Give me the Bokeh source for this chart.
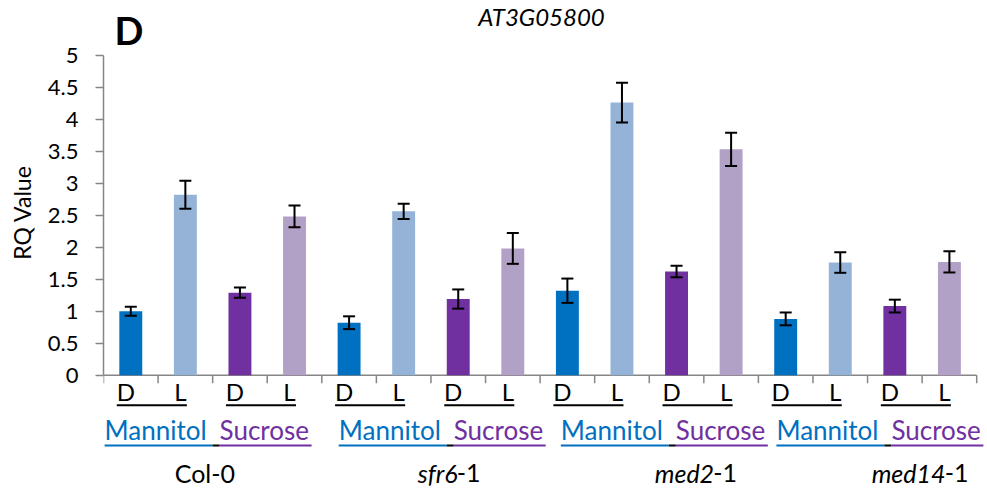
import math
from bokeh.plotting import figure
from bokeh.layouts import row
from bokeh.models import (ColumnDataSource, Range1d, LinearAxis, FixedTicker,
                          Whisker, TeeHead)
from bokeh.core.properties import value
from bokeh.embed import file_html
from bokeh.resources import INLINE

# ---------------- data ----------------
genotype_italic = ["", "sfr6", "med2", "med14"]
genotype_plain = ["Col-0", "-1", "-1", "-1"]
treatments = ["Mannitol", "Sucrose"]
light = ["D", "L"]

# order inside each genotype: Mannitol D, Mannitol L, Sucrose D, Sucrose L
col0_rq = [1.00, 2.82, 1.29, 2.48]
col0_err = [0.07, 0.22, 0.08, 0.17]
sfr6_rq = [0.82, 2.56, 1.19, 1.98]
sfr6_err = [0.10, 0.12, 0.15, 0.24]
med2_rq = [1.32, 4.26, 1.62, 3.53]
med2_err = [0.19, 0.31, 0.09, 0.26]
med14_rq = [0.88, 1.76, 1.08, 1.77]
med14_err = [0.10, 0.16, 0.10, 0.165]

y_ticks = [0, 0.5, 1, 1.5, 2, 2.5, 3, 3.5, 4, 4.5, 5]
y_tick_labels = ["0", "0.5", "1", "1.5", "2", "2.5", "3", "3.5", "4", "4.5", "5"]
title_text = "AT3G05800"
panel_letter = "D"
y_label = "RQ Value"

# ---------------- styles / layout ----------------
FONT = "Lato"
bar_colors = ["#0070C0", "#95B3D7", "#7030A0", "#B2A1C7"]
treat_colors = ["#0070C0", "#7030A0"]
AXIS_GREY = "#868686"
BASE_FIX = 0.42  # em correction for alphabetic baseline placement

TOTAL_W, H = 987, 490
LABEL_W = 40
W = TOTAL_W - LABEL_W
FL, FR = 63, 0
frame_w = W - FL - FR
X0 = LABEL_W + FL          # page x of frame left
Y0 = 374.7                 # page y of value 0
PX_Y = 64.0
PX_X = 54.575              # pixels per category
y_end = Y0 / PX_Y
y_start = -(H - Y0) / PX_Y
x_end = frame_w / PX_X

rq_all = [col0_rq, sfr6_rq, med2_rq, med14_rq]
err_all = [col0_err, sfr6_err, med2_err, med14_err]
n_cat = sum(len(r) for r in rq_all)

def xd(page_x):
    return (page_x - X0) / PX_X
def yd(page_y):
    return (Y0 - page_y) / PX_Y
def fix(size):
    return -BASE_FIX * size

# per-group text placement (in categories, from group start)
treat_label_start = [0.02, 0.31, 0.38, 0.33]
geno_label_right = [2.41, 2.91, 3.61, 3.85]
MANN_W, GAP_W, SUC_W = 108, 7, 92
TREAT_SIZE = 26

# ---------------- sources ----------------
xs, tops, errs, cols, dl = [], [], [], [], []
for g, (rq, er) in enumerate(zip(rq_all, err_all)):
    for k, (v, e) in enumerate(zip(rq, er)):
        xs.append(g * 4 + k + 0.5)
        tops.append(v)
        errs.append(e)
        cols.append(bar_colors[k])
        dl.append(light[k % 2])
src = ColumnDataSource(dict(x=xs, top=tops, upper=[t + e for t, e in zip(tops, errs)],
                            lower=[t - e for t, e in zip(tops, errs)], color=cols, dl=dl,
                            y_dl=[yd(401.5)] * len(xs)))

p = figure(width=W, height=H, x_range=Range1d(0, x_end), y_range=Range1d(y_start, y_end),
           output_backend="svg", toolbar_location=None, title=None,
           x_axis_type=None, y_axis_type=None,
           min_border_left=FL, min_border_right=FR, min_border_top=0, min_border_bottom=0)
p.outline_line_color = None
p.background_fill_color = "white"
p.border_fill_color = "white"

yaxis = LinearAxis(ticker=FixedTicker(ticks=y_ticks), bounds=(0, 5),
                   major_label_overrides={float(t): s for t, s in zip(y_ticks, y_tick_labels)})
yaxis.axis_line_color = AXIS_GREY
yaxis.axis_line_width = 1.5
yaxis.major_tick_line_color = AXIS_GREY
yaxis.major_tick_line_width = 1.5
yaxis.major_tick_out = 8
yaxis.major_tick_in = 0
yaxis.minor_tick_out = 0
yaxis.minor_tick_in = 0
yaxis.major_label_standoff = 17
yaxis.major_label_text_font = FONT
yaxis.major_label_text_font_size = "22px"
yaxis.major_label_text_color = "black"
p.add_layout(yaxis, "left")

# x axis line and category ticks
p.segment(x0=[0], y0=[0], x1=[n_cat], y1=[0], line_color=AXIS_GREY, line_width=1.5)
tick_x = list(range(n_cat + 1))
p.segment(x0=tick_x, y0=[0] * len(tick_x), x1=tick_x, y1=[-8 / PX_Y] * len(tick_x),
          line_color=AXIS_GREY, line_width=1.5)

# bars
p.vbar(x="x", top="top", width=0.42, fill_color="color", line_color=None, source=src)

# error bars
p.add_layout(Whisker(base="x", upper="upper", lower="lower", source=src, level="overlay",
                     line_color="black", line_width=2,
                     upper_head=TeeHead(size=12, line_width=2, line_color="black"),
                     lower_head=TeeHead(size=12, line_width=2, line_color="black")))

# D / L labels
p.text(x="x", y="y_dl", text="dl", source=src, text_align="center", text_baseline="alphabetic",
       x_offset=-5, y_offset=fix(24), text_font=value(FONT), text_font_size=value("24px"),
       text_color="black")

# underline of D/L pairs
pair_x0, pair_x1 = [], []
for k in range(n_cat // 2):
    pair_x0.append(2 * k + 0.5 - 14 / PX_X)
    pair_x1.append(2 * k + 1.5 + 1.5 / PX_X)
y_pair = yd(404.7)
p.segment(x0=pair_x0, y0=[y_pair] * len(pair_x0), x1=pair_x1, y1=[y_pair] * len(pair_x0),
          line_color="black", line_width=2)

# treatment labels with underlines
y_treat = yd(440.5)
y_treat_ul = yd(445)
for g in range(len(rq_all)):
    s = 4 * g + treat_label_start[g]
    xm1 = s + MANN_W / PX_X
    xs2 = s + (MANN_W + GAP_W) / PX_X
    xe2 = xs2 + SUC_W / PX_X
    p.text(x=[s], y=[y_treat], text=[treatments[0]], text_align="left", text_baseline="alphabetic",
           y_offset=fix(TREAT_SIZE), text_font=value(FONT), text_font_size=value(f"{TREAT_SIZE}px"),
           text_color=treat_colors[0])
    p.text(x=[xs2], y=[y_treat], text=[treatments[1]], text_align="left", text_baseline="alphabetic",
           y_offset=fix(TREAT_SIZE), text_font=value(FONT), text_font_size=value(f"{TREAT_SIZE}px"),
           text_color=treat_colors[1])
    p.segment(x0=[s], y0=[y_treat_ul], x1=[xm1], y1=[y_treat_ul], line_color=treat_colors[0], line_width=2)
    p.segment(x0=[xm1], y0=[y_treat_ul], x1=[xs2], y1=[y_treat_ul], line_color="black", line_width=2)
    p.segment(x0=[xs2], y0=[y_treat_ul], x1=[xe2], y1=[y_treat_ul], line_color=treat_colors[1], line_width=2)

# genotype labels
y_geno = yd(483)
for g in range(len(rq_all)):
    r = 4 * g + geno_label_right[g]
    p.text(x=[r], y=[y_geno], text=[genotype_plain[g]], text_align="right", text_baseline="alphabetic",
           y_offset=fix(25), text_font=value(FONT), text_font_size=value("25px"), text_color="black")
    if genotype_italic[g]:
        p.text(x=[r], y=[y_geno], text=[genotype_italic[g]], text_align="right", text_baseline="alphabetic",
               x_offset=-23, y_offset=fix(25), text_font=value(FONT), text_font_size=value("25px"),
               text_font_style="italic", text_color="black")

# title and panel letter
p.text(x=[xd(541)], y=[yd(26)], text=[title_text], text_align="center", text_baseline="alphabetic",
       y_offset=fix(24), text_font=value(FONT), text_font_size=value("24px"),
       text_font_style="italic", text_color="black")
p.text(x=[xd(114)], y=[yd(45)], text=[panel_letter], text_align="left", text_baseline="alphabetic",
       y_offset=fix(38), text_font=value(FONT), text_font_size=value("38px"),
       text_font_style="bold", text_color="black")

# y-axis title in a narrow side figure
p0 = figure(width=LABEL_W, height=H, x_range=Range1d(0, LABEL_W), y_range=Range1d(0, H),
            output_backend="svg", toolbar_location=None, title=None,
            x_axis_type=None, y_axis_type=None, min_border=0)
p0.outline_line_color = None
p0.text(x=[21], y=[H - 212], text=[y_label], angle=math.pi / 2, text_align="center",
        text_baseline="middle", text_font=value(FONT), text_font_size=value("23px"),
        text_color="black")

layout = row(p0, p, spacing=0)
open("out.html", "w").write(file_html(layout, INLINE))
